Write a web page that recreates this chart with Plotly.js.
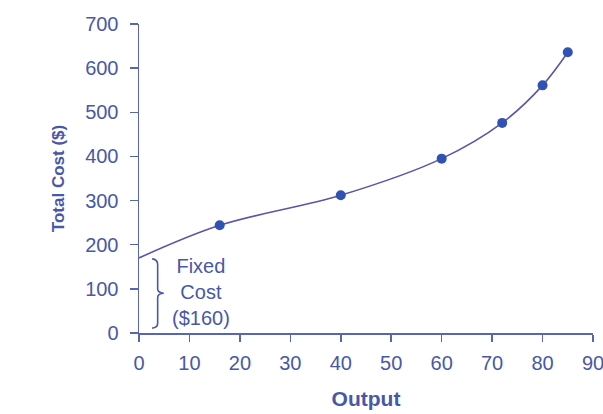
<!DOCTYPE html>
<html>
<head>
<meta charset="utf-8">
<script src="https://cdn.plot.ly/plotly-3.0.1.min.js"></script>
<style>html,body{margin:0;padding:0;background:#fff;}#chart{width:603px;height:414px;}</style>
</head>
<body>
<div id="chart"></div>
<script>
// Data
const outputQty = [16, 40, 60, 72, 80, 85];
const totalCost = [244, 312, 395, 476, 561, 636];
const curveX = [0, 16, 40, 60, 72, 80, 85];
const curveY = [170, 244, 312, 395, 476, 561, 636];
const xTicks = [0, 10, 20, 30, 40, 50, 60, 70, 80, 90];
const yTicks = [0, 100, 200, 300, 400, 500, 600, 700];
const fixedCostLabel = 'Fixed<br>Cost<br>($160)';

const textColor = '#4858a8';
const axisColor = '#5865b2';
const fontFam = '"Liberation Sans", Arial, sans-serif';

const traces = [
  {
    x: curveX, y: curveY, type: 'scatter', mode: 'lines',
    line: {shape: 'spline', smoothing: 1, color: '#5c56a8', width: 1.6},
    hoverinfo: 'skip', showlegend: false
  },
  {
    x: outputQty, y: totalCost, type: 'scatter', mode: 'markers',
    marker: {size: 10, color: '#2f52b4'},
    showlegend: false
  }
];

const layout = {
  width: 603, height: 414,
  margin: {l: 139, r: 10, t: 24, b: 81},
  paper_bgcolor: '#ffffff', plot_bgcolor: '#ffffff',
  font: {family: fontFam, size: 20, color: textColor},
  xaxis: {
    range: [0, 90], tickvals: xTicks, ticktext: xTicks.map(String),
    showgrid: false, zeroline: false, showline: true, linecolor: axisColor, linewidth: 1.5,
    ticks: 'outside', ticklen: 7, tickwidth: 1.5, tickcolor: axisColor,
    tickfont: {family: fontFam, size: 20, color: textColor},
    ticklabelstandoff: 4, ticklabeloverflow: 'allow',
    title: {text: '<b>Output</b>', font: {family: fontFam, size: 21, color: textColor}, standoff: 19},
    fixedrange: true
  },
  yaxis: {
    range: [0, 700], tickvals: yTicks, ticktext: yTicks.map(String),
    showgrid: false, zeroline: false, showline: true, linecolor: axisColor, linewidth: 1.5,
    ticks: 'outside', ticklen: 8, tickwidth: 1.5, tickcolor: axisColor,
    tickfont: {family: fontFam, size: 20, color: textColor},
    ticklabelstandoff: 7, ticklabeloverflow: 'allow',
    title: {text: '<b>Total Cost ($)</b>', font: {family: fontFam, size: 17, color: textColor}, standoff: 16},
    fixedrange: true
  },
  shapes: [
    {
      type: 'path', xref: 'x', yref: 'y',
      path: 'M 2.6 168 Q 3.7 167 3.7 155 L 3.7 100 Q 3.7 91 4.9 90 Q 3.7 89 3.7 80 L 3.7 22 Q 3.7 12 2.6 11',
      line: {color: textColor, width: 1.6}
    }
  ],
  annotations: [
    {
      x: 12.3, y: 93, xref: 'x', yref: 'y', text: fixedCostLabel, showarrow: false,
      align: 'center', font: {family: fontFam, size: 20, color: textColor}
    }
  ]
};

Plotly.newPlot('chart', traces, layout, {displayModeBar: false, staticPlot: true});
</script>
</body>
</html>
